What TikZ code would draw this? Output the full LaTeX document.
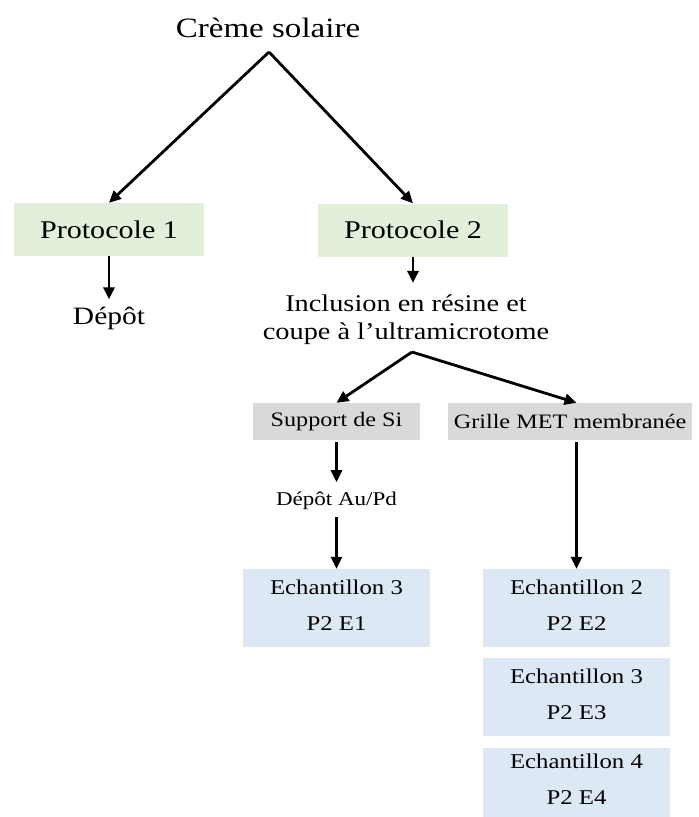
\documentclass[tikz,border=0pt]{standalone}
\usepackage{fontspec}
\setmainfont{Liberation Serif}[FakeStretch=1.18]
\usepackage{tikz}
\usetikzlibrary{arrows.meta, positioning}
\definecolor{BoxGreen}{RGB}{226,239,218}
\definecolor{BoxGrey}{RGB}{217,217,217}
\definecolor{BoxBlue}{RGB}{221,232,245}

\begin{document}
\begin{tikzpicture}[x=1pt, y=-1pt,
          proto/.style={rectangle, fill=BoxGreen, inner sep=0pt,
                        minimum width=190pt, minimum height=53pt,
                        font=\fontsize{25.5}{30}\selectfont},
          supp/.style={rectangle, fill=BoxGrey, inner sep=0pt,
                       minimum height=37pt, font=\fontsize{20.5}{24}\selectfont},
          ech/.style={rectangle, fill=BoxBlue, inner sep=0pt, align=center,
                      minimum width=187pt, minimum height=78pt, text depth=6pt,
                      font=\fontsize{21}{36}\selectfont},
          lbl/.style={inner sep=0pt},
          arr/.style={-{Triangle[length=12pt, width=11pt]}, line width=2.8pt}
        ]
        \useasboundingbox (0,0) rectangle (699,817);

        \node[lbl, anchor=base, font=\fontsize{28}{32}\selectfont] (creme) at (268,37) {Crème solaire};
        \coordinate (top) at (269,52);
        \node[proto] (p1) at (109,229.5) {Protocole 1};
        \node[proto] (p2) at (413,230) {Protocole 2};

        % Two protocols
        \draw[arr] (top) -- (p1.north);
        \draw[arr] (top) -- (p2.north);

        % Protocole 1
        \node[lbl, anchor=base, font=\fontsize{25}{30}\selectfont] (depot) at (109,324) {Dépôt};
        \draw[arr, shorten >=7pt] (p1.south) -- (depot.north);

        % Protocole 2
        \node[lbl, align=center, font=\fontsize{24}{28}\selectfont] (incl) at (406,320)
              {Inclusion en résine et\\coupe à l’ultramicrotome};
        \draw[arr, shorten >=12pt] (p2.south) -- (p2.south |- incl.north);

        \coordinate (split) at (412,352);
        \node[supp, minimum width=167pt] (si)  at (336.5,421.5) {Support de Si};
        \node[supp, minimum width=244pt] (met) at (570,421.5) {Grille MET membranée};

        % Sample holders
        \node[ech] (e1) at (336.5,608) {Echantillon 3\\P2 E1};
        \node[ech] (e2) at (576.5,608) {Echantillon 2\\P2 E2};
        \node[ech] (e3) at (576.5,697) {Echantillon 3\\P2 E3};
        \node[ech, minimum height=69pt] (e4) at (576.5,782.5) {Echantillon 4\\P2 E4};

        \draw[arr] (split) -- (si.north);
        \draw[arr] (split) -- (e2.north |- met.north);

        % Si branch
        \node[lbl, anchor=base, font=\fontsize{19.5}{24}\selectfont] (aupd) at (336.5,505) {Dépôt Au/Pd};
        \draw[arr, shorten <=2pt, shorten >=9pt] (si.south) -- (si.south |- aupd.north);
        \draw[arr, shorten <=8pt] (aupd.south) -- (e1.north);

        % MET branch
        \draw[arr, shorten <=2pt] (e2.north |- met.south) -- (e2.north);
      \end{tikzpicture}
\end{document}
